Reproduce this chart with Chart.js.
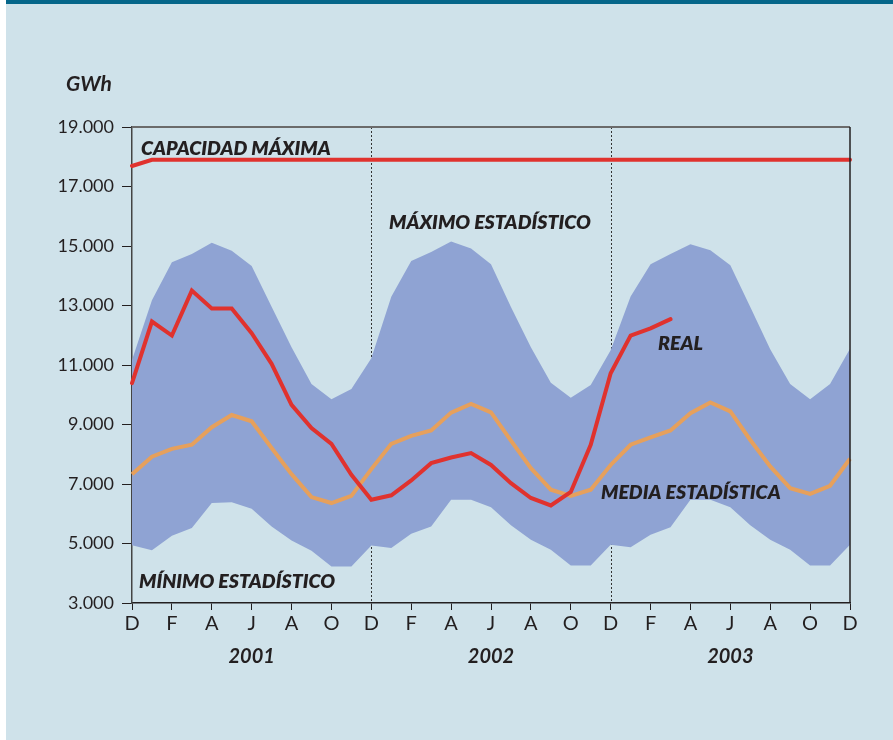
<!DOCTYPE html>
<html>
<head>
<meta charset="utf-8">
<script src="https://cdn.jsdelivr.net/npm/chart.js@4"></script>
<style>
  html, body { margin: 0; padding: 0; background: #fff; }
  #wrap { position: absolute; left: 6px; top: 0; width: 887px; height: 740px; background: #cfe2ea; }
  #bar { position: absolute; left: 0; top: 0; width: 887px; height: 4px; background: #05668a; }
  canvas { position: absolute; left: 0; top: 0; }
</style>
</head>
<body>
<div id="wrap"><div id="bar"></div></div>
<canvas id="chart" width="893" height="740"></canvas>
<script>
// months Dec 2000 .. Dec 2003
const months = ['D','E','F','M','A','M','J','J','A','S','O','N',
                'D','E','F','M','A','M','J','J','A','S','O','N',
                'D','E','F','M','A','M','J','J','A','S','O','N','D'];
const years = ['2001', '2002', '2003'];
const yearAt = [6, 18, 30];

const capacidad = [17690, 17900, 17900, 17900, 17900, 17900, 17900, 17900, 17900, 17900, 17900, 17900,
                   17900, 17900, 17900, 17900, 17900, 17900, 17900, 17900, 17900, 17900, 17900, 17900,
                   17900, 17900, 17900, 17900, 17900, 17900, 17900, 17900, 17900, 17900, 17900, 17900, 17900];
const maximo = [11170, 13180, 14450, 14730, 15110, 14840, 14330, 12960, 11600, 10360, 9850, 10190,
                11230, 13290, 14500, 14800, 15150, 14920, 14390, 12950, 11600, 10400, 9900, 10330,
                11500, 13300, 14390, 14730, 15060, 14860, 14350, 12950, 11530, 10360, 9850, 10360, 11550];
const minimo = [4940, 4770, 5260, 5520, 6360, 6390, 6170, 5570, 5100, 4760, 4230, 4230,
                4930, 4850, 5330, 5570, 6470, 6470, 6220, 5610, 5130, 4790, 4260, 4260,
                4960, 4870, 5290, 5550, 6470, 6470, 6220, 5610, 5130, 4790, 4260, 4260, 4960];
const media = [7330, 7920, 8180, 8320, 8910, 9320, 9110, 8210, 7330, 6560, 6360, 6600,
               7500, 8350, 8620, 8800, 9400, 9690, 9410, 8460, 7530, 6810, 6600, 6810,
               7640, 8320, 8570, 8800, 9380, 9740, 9440, 8480, 7590, 6860, 6670, 6940, 7850];
const real = [10390, 12460, 11990, 13500, 12900, 12900, 12070, 11040, 9660, 8880, 8350, 7310,
              6470, 6620, 7120, 7700, 7890, 8040, 7640, 7030, 6530, 6280, 6730, 8320,
              10720, 11990, 12230, 12540];
const yTicks = [3000, 5000, 7000, 9000, 11000, 13000, 15000, 17000, 19000];

const INK = '#231f20';
const FONT = 'Lato, "DejaVu Sans", sans-serif';

const fmt = v => String(v).replace(/\B(?=(\d{3})+(?!\d))/g, '.');

// dotted year separators (behind the band), frame and texts
const decor = {
  id: 'decor',
  beforeDatasetsDraw(chart) {
    const { ctx, chartArea: a, scales: { x } } = chart;
    ctx.save();
    ctx.strokeStyle = '#333';
    ctx.lineWidth = 1;
    ctx.setLineDash([2, 2]);
    [12, 24].forEach(i => {
      const px = Math.round(x.getPixelForValue(i)) + 0.5;
      ctx.beginPath();
      ctx.moveTo(px, a.top);
      ctx.lineTo(px, a.bottom);
      ctx.stroke();
    });
    ctx.restore();
  },
  afterDraw(chart) {
    const { ctx, chartArea: a, scales: { x } } = chart;
    ctx.save();
    // top + right frame
    ctx.strokeStyle = '#6b6b6b';
    ctx.lineWidth = 2;
    ctx.beginPath();
    ctx.moveTo(a.left, a.top);
    ctx.lineTo(a.right, a.top);
    ctx.stroke();
    ctx.strokeStyle = INK;
    ctx.lineWidth = 1.5;
    ctx.beginPath();
    ctx.moveTo(a.right, a.top);
    ctx.lineTo(a.right, a.bottom);
    ctx.stroke();

    ctx.fillStyle = INK;
    ctx.font = 'italic bold 21px ' + FONT;
    ctx.textAlign = 'left';
    ctx.textBaseline = 'alphabetic';
    ctx.fillText('GWh', 66, 91);

    ctx.font = 'italic 800 19.5px ' + FONT;
    ctx.fillText('CAPACIDAD MÁXIMA', 141, 155);
    ctx.fillText('MÁXIMO ESTADÍSTICO', 389, 229);
    ctx.fillText('REAL', 658, 350);
    ctx.fillText('MEDIA ESTADÍSTICA', 601, 499);
    ctx.fillText('MÍNIMO ESTADÍSTICO', 139, 588);

    ctx.font = 'italic bold 20px ' + FONT;
    ctx.textAlign = 'center';
    years.forEach((y, k) => ctx.fillText(y, x.getPixelForValue(yearAt[k]), 663));
    ctx.restore();
  }
};

// dataset 0 is drawn on top, the band last
new Chart(document.getElementById('chart'), {
  type: 'line',
  data: {
    labels: months,
    datasets: [
      { label: 'Capacidad', data: capacidad, borderColor: '#e0322e', borderWidth: 4, pointRadius: 0, fill: false, borderCapStyle: 'round' },
      { label: 'Real', data: real, borderColor: '#e0322e', borderWidth: 4, pointRadius: 0, fill: false, borderJoinStyle: 'miter', borderCapStyle: 'round' },
      { label: 'Media', data: media, borderColor: '#e6a05c', borderWidth: 4, pointRadius: 0, fill: false, borderJoinStyle: 'miter' },
      { label: 'Máximo', data: maximo, borderWidth: 0, pointRadius: 0, fill: '+1', backgroundColor: '#8fa3d3' },
      { label: 'Mínimo', data: minimo, borderWidth: 0, pointRadius: 0, fill: false }
    ]
  },
  options: {
    responsive: false,
    animation: false,
    layout: { padding: { left: 0, top: 127, right: 43, bottom: 0 } },
    plugins: { legend: { display: false }, tooltip: { enabled: false } },
    scales: {
      x: {
        offset: false,
        grid: {
          drawOnChartArea: false,
          tickLength: 7,
          tickColor: c => (c.index % 2 === 0 ? INK : 'rgba(0,0,0,0)')
        },
        border: { color: INK, width: 1.5 },
        ticks: {
          autoSkip: false,
          maxRotation: 0,
          padding: 2,
          color: INK,
          font: { family: FONT, size: 20 },
          callback: (v, i) => (i % 2 === 0 ? months[i] : '')
        },
        afterFit: s => { s.height = 740 - 603; }
      },
      y: {
        min: 3000,
        max: 19000,
        afterBuildTicks: s => { s.ticks = yTicks.map(v => ({ value: v })); },
        grid: { drawOnChartArea: false, tickLength: 10, tickColor: INK },
        border: { color: '#444', width: 1.5 },
        ticks: {
          padding: 8,
          color: INK,
          font: { family: FONT, size: 18 },
          callback: v => fmt(v)
        },
        afterFit: s => { s.width = 132; }
      }
    }
  },
  plugins: [decor]
});
</script>
</body>
</html>
